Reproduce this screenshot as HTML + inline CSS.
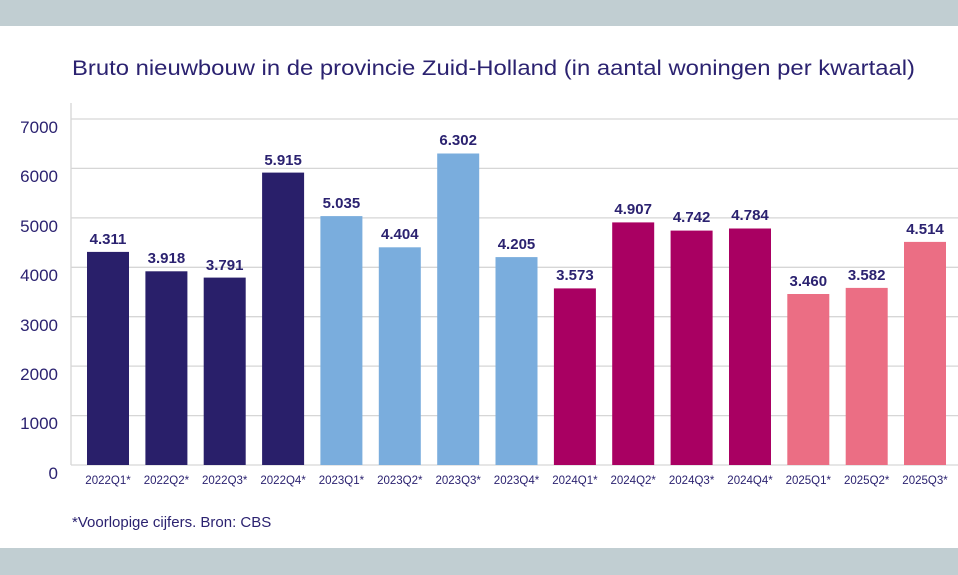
<!DOCTYPE html>
<html><head><meta charset="utf-8"><style>
html,body{margin:0;padding:0;background:#fff;}
svg{display:block;font-family:"Liberation Sans",sans-serif;}
</style></head><body>
<svg width="958" height="575" viewBox="0 0 958 575" xmlns="http://www.w3.org/2000/svg">
<rect x="0" y="0" width="958" height="26" fill="#c1ced2"/>
<rect x="0" y="548" width="958" height="27" fill="#c1ced2"/>
<text x="72" y="75" font-size="21" fill="#2b2270" textLength="843" lengthAdjust="spacingAndGlyphs">Bruto nieuwbouw in de provincie Zuid-Holland (in aantal woningen per kwartaal)</text>
<g stroke="#d6d6d6" stroke-width="1.3">
<line x1="71" y1="119" x2="958" y2="119"/>
<line x1="71" y1="168.4" x2="958" y2="168.4"/>
<line x1="71" y1="217.9" x2="958" y2="217.9"/>
<line x1="71" y1="267.3" x2="958" y2="267.3"/>
<line x1="71" y1="316.7" x2="958" y2="316.7"/>
<line x1="71" y1="366.1" x2="958" y2="366.1"/>
<line x1="71" y1="415.6" x2="958" y2="415.6"/>
<line x1="71" y1="465" x2="958" y2="465"/>
<line x1="71" y1="103" x2="71" y2="465"/>
</g>
<g font-size="17" fill="#2b2270" text-anchor="end">
<text x="58" y="133">7000</text><text x="58" y="182">6000</text><text x="58" y="232">5000</text>
<text x="58" y="281">4000</text><text x="58" y="331">3000</text><text x="58" y="380">2000</text>
<text x="58" y="429">1000</text><text x="58" y="479">0</text>
</g>
<g>
<rect x="87" y="251.9" width="42" height="213.1" fill="#291f6a"/>
<rect x="145.4" y="271.3" width="42" height="193.7" fill="#291f6a"/>
<rect x="203.7" y="277.6" width="42" height="187.4" fill="#291f6a"/>
<rect x="262.1" y="172.6" width="42" height="292.4" fill="#291f6a"/>
<rect x="320.4" y="216.1" width="42" height="248.9" fill="#7aaddd"/>
<rect x="378.8" y="247.3" width="42" height="217.7" fill="#7aaddd"/>
<rect x="437.2" y="153.5" width="42" height="311.5" fill="#7aaddd"/>
<rect x="495.5" y="257.1" width="42" height="207.9" fill="#7aaddd"/>
<rect x="553.9" y="288.4" width="42" height="176.6" fill="#a90062"/>
<rect x="612.2" y="222.4" width="42" height="242.6" fill="#a90062"/>
<rect x="670.6" y="230.6" width="42" height="234.4" fill="#a90062"/>
<rect x="729" y="228.5" width="42" height="236.5" fill="#a90062"/>
<rect x="787.3" y="294" width="42" height="171" fill="#eb6e84"/>
<rect x="845.7" y="287.9" width="42" height="177.1" fill="#eb6e84"/>
<rect x="904" y="241.9" width="42" height="223.1" fill="#eb6e84"/>
</g>
<g font-size="15" font-weight="bold" fill="#2b2270" text-anchor="middle">
<text x="108" y="244">4.311</text><text x="166.4" y="263">3.918</text><text x="224.7" y="270">3.791</text>
<text x="283.1" y="165">5.915</text><text x="341.4" y="208">5.035</text><text x="399.8" y="239">4.404</text>
<text x="458.2" y="145">6.302</text><text x="516.5" y="249">4.205</text><text x="574.9" y="280">3.573</text>
<text x="633.2" y="214">4.907</text><text x="691.6" y="222">4.742</text><text x="750" y="220">4.784</text>
<text x="808.3" y="286">3.460</text><text x="866.7" y="280">3.582</text><text x="925" y="234">4.514</text>
</g>
<g font-size="11.5" fill="#2b2270" text-anchor="middle">
<text x="108" y="484">2022Q1*</text><text x="166.4" y="484">2022Q2*</text><text x="224.7" y="484">2022Q3*</text>
<text x="283.1" y="484">2022Q4*</text><text x="341.4" y="484">2023Q1*</text><text x="399.8" y="484">2023Q2*</text>
<text x="458.2" y="484">2023Q3*</text><text x="516.5" y="484">2023Q4*</text><text x="574.9" y="484">2024Q1*</text>
<text x="633.2" y="484">2024Q2*</text><text x="691.6" y="484">2024Q3*</text><text x="750" y="484">2024Q4*</text>
<text x="808.3" y="484">2025Q1*</text><text x="866.7" y="484">2025Q2*</text><text x="925" y="484">2025Q3*</text>
</g>
<text x="72" y="527" font-size="15" fill="#2b2270">*Voorlopige cijfers. Bron: CBS</text>
</svg>
</body></html>
